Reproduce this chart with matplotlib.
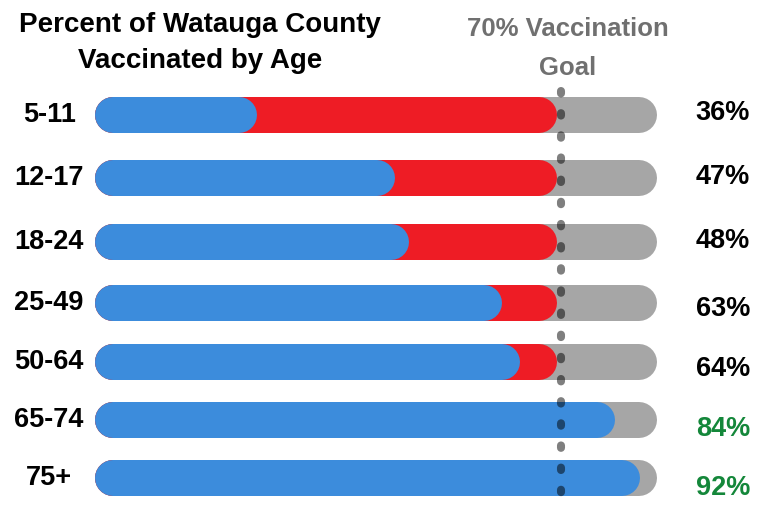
import matplotlib.pyplot as plt

# -----------------------------------------------------
# data
# -----------------------------------------------------
ages = ["5-11", "12-17", "18-24", "25-49", "50-64", "65-74", "75+"]
pct = [36, 47, 48, 63, 64, 84, 92]
# the graphic is not drawn to scale: blue bar ends as drawn,
# measured in units where the goal line sits at 70
blue_end = [24.3, 45.1, 47.2, 61.1, 63.8, 78.1, 81.9]
red_end = 69.4
track_end = 84.4
goal = 70

# -----------------------------------------------------
# style / layout
# -----------------------------------------------------
BLUE = "#3c8cdc"
RED = "#ee1c25"
GRAY = "#a6a6a6"
GREEN = "#14873a"
GOAL_TXT = "#707070"
FONT = ["Liberation Sans", "DejaVu Sans"]

W, H = 763, 508
x_left_px = 95      # where the bars start
px_per_unit = (561 - x_left_px) / goal
row_y = [115, 178, 242, 303, 362, 420, 478]   # row centres, pixels from top
pct_off = [-2, -1, -1, 6, 7, 9, 10]            # small nudges of the % labels
bar_px = 36

fig = plt.figure(figsize=(W / 100, H / 100), dpi=100)
ax = fig.add_axes([0, 0, 1, 1])
ax.set_xlim(-x_left_px / px_per_unit, (W - x_left_px) / px_per_unit)
ax.set_ylim(H, 0)
ax.axis("off")

lw = bar_px * 72 / 100          # bar thickness in points
cap = (bar_px / 2) / px_per_unit  # round cap length in x units


def pill(y, x0, x1, color, z):
    ax.plot([x0 + cap, x1 - cap], [y, y], color=color, lw=lw,
            solid_capstyle="round", zorder=z)


for i, age in enumerate(ages):
    y = row_y[i]
    pill(y, 0, track_end, GRAY, 1)
    pill(y, 0, red_end, RED, 2)
    pill(y, 0, blue_end[i], BLUE, 3)

    ax.text(-6.9, y, age, ha="center", va="center", fontsize=19.5,
            fontweight="bold", family=FONT, color="black")
    col = GREEN if pct[i] >= goal else "black"
    ax.text(98.4, y + pct_off[i], f"{pct[i]}%", ha="right", va="center",
            fontsize=19.5, fontweight="bold", family=FONT, color=col)

# goal line (dots)
ax.plot([goal, goal], [91, 503], color="black", alpha=0.5, lw=5.8,
        dashes=(0.3, 2.45), dash_capstyle="round", zorder=5)

# titles
ax.text(15.8, 42.5, "Percent of Watauga County\nVaccinated by Age",
        ha="center", va="center", fontsize=20, fontweight="bold",
        family=FONT, color="black", linespacing=1.5)
ax.text(71.05, 48.5, "70% Vaccination\nGoal", ha="center", va="center",
        fontsize=18.5, fontweight="bold", family=FONT, color=GOAL_TXT,
        linespacing=1.75)

fig.savefig("out.png", dpi=100)
